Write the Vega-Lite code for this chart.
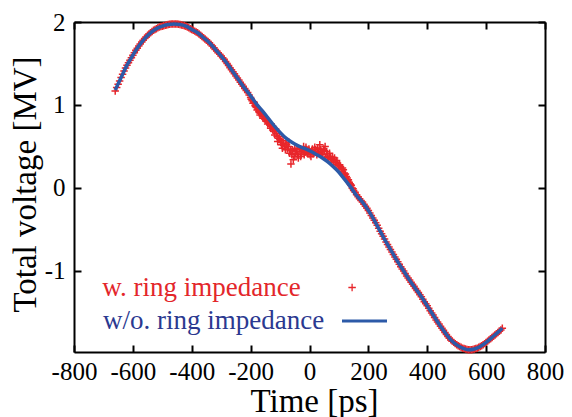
{
  "$schema": "https://vega.github.io/schema/vega-lite/v6.json",
  "width": 471,
  "height": 330,
  "autosize": {"type": "none"},
  "padding": {"left": 74, "top": 22, "right": 27, "bottom": 65},
  "background": "white",
  "config": {
    "view": {"stroke": null},
    "font": "Liberation Serif, Times New Roman, DejaVu Serif, serif",
    "axis": {
      "grid": false,
      "domainColor": "black",
      "domainWidth": 2,
      "tickColor": "black",
      "tickWidth": 2,
      "tickSize": -7,
      "labelFont": "Liberation Serif, Times New Roman, DejaVu Serif, serif",
      "labelFontSize": 25,
      "labelColor": "black",
      "labelFlush": false,
      "labelOverlap": false,
      "labelExpr": "'' + datum.value",
      "titleFont": "Liberation Serif, Times New Roman, DejaVu Serif, serif",
      "titleFontSize": 33,
      "titleFontWeight": "normal",
      "titleColor": "black"
    },
    "legend": {
      "labelFont": "Liberation Serif, Times New Roman, DejaVu Serif, serif",
      "labelFontSize": 27,
      "labelLimit": 0,
      "labelAlign": "left",
      "labelBaseline": "middle",
      "padding": 0,
      "offset": 0,
      "orient": "none",
      "title": null
    }
  },
  "datasets": {
    "red": [
      {"t": -660, "v": 1.17}, {"t": -655, "v": 1.21}, {"t": -650, "v": 1.25}, {"t": -645, "v": 1.29},
      {"t": -640, "v": 1.33}, {"t": -635, "v": 1.37}, {"t": -630, "v": 1.41}, {"t": -625, "v": 1.445},
      {"t": -620, "v": 1.48}, {"t": -615, "v": 1.51}, {"t": -610, "v": 1.54}, {"t": -605, "v": 1.57},
      {"t": -600, "v": 1.6}, {"t": -595, "v": 1.63}, {"t": -590, "v": 1.66}, {"t": -585, "v": 1.685},
      {"t": -580, "v": 1.71}, {"t": -575, "v": 1.735}, {"t": -570, "v": 1.76}, {"t": -565, "v": 1.78},
      {"t": -560, "v": 1.8}, {"t": -555, "v": 1.82}, {"t": -550, "v": 1.84}, {"t": -545, "v": 1.855},
      {"t": -540, "v": 1.87}, {"t": -535, "v": 1.885}, {"t": -530, "v": 1.9}, {"t": -525, "v": 1.91},
      {"t": -520, "v": 1.92}, {"t": -515, "v": 1.93}, {"t": -510, "v": 1.94}, {"t": -505, "v": 1.945},
      {"t": -500, "v": 1.95}, {"t": -495, "v": 1.955}, {"t": -490, "v": 1.96}, {"t": -485, "v": 1.965},
      {"t": -480, "v": 1.97}, {"t": -475, "v": 1.972}, {"t": -470, "v": 1.975}, {"t": -465, "v": 1.975},
      {"t": -460, "v": 1.975}, {"t": -455, "v": 1.975}, {"t": -450, "v": 1.975}, {"t": -445, "v": 1.972},
      {"t": -440, "v": 1.97}, {"t": -435, "v": 1.965}, {"t": -430, "v": 1.96}, {"t": -425, "v": 1.955},
      {"t": -420, "v": 1.95}, {"t": -415, "v": 1.94}, {"t": -410, "v": 1.93}, {"t": -405, "v": 1.92},
      {"t": -400, "v": 1.91}, {"t": -395, "v": 1.9}, {"t": -390, "v": 1.89}, {"t": -385, "v": 1.88},
      {"t": -380, "v": 1.87}, {"t": -375, "v": 1.855}, {"t": -370, "v": 1.84}, {"t": -365, "v": 1.825},
      {"t": -360, "v": 1.81}, {"t": -355, "v": 1.795}, {"t": -350, "v": 1.78}, {"t": -345, "v": 1.765},
      {"t": -340, "v": 1.75}, {"t": -335, "v": 1.73}, {"t": -330, "v": 1.71}, {"t": -325, "v": 1.69},
      {"t": -320, "v": 1.67}, {"t": -315, "v": 1.65}, {"t": -310, "v": 1.63}, {"t": -305, "v": 1.61},
      {"t": -300, "v": 1.59}, {"t": -295, "v": 1.57}, {"t": -290, "v": 1.55}, {"t": -285, "v": 1.525},
      {"t": -280, "v": 1.5}, {"t": -275, "v": 1.475}, {"t": -270, "v": 1.45}, {"t": -265, "v": 1.425},
      {"t": -260, "v": 1.4}, {"t": -255, "v": 1.375}, {"t": -250, "v": 1.35}, {"t": -245, "v": 1.325},
      {"t": -240, "v": 1.3}, {"t": -235, "v": 1.275}, {"t": -230, "v": 1.25}, {"t": -225, "v": 1.225},
      {"t": -220, "v": 1.2}, {"t": -215, "v": 1.175}, {"t": -210, "v": 1.15}, {"t": -205, "v": 1.12},
      {"t": -200, "v": 1.09}, {"t": -198, "v": 1.07}, {"t": -195, "v": 1.05}, {"t": -192, "v": 1.02},
      {"t": -190, "v": 1.04}, {"t": -188, "v": 1.03}, {"t": -185, "v": 0.99}, {"t": -182, "v": 0.98},
      {"t": -180, "v": 0.97}, {"t": -178, "v": 0.94}, {"t": -175, "v": 0.95}, {"t": -172, "v": 0.92},
      {"t": -170, "v": 0.91}, {"t": -168, "v": 0.88}, {"t": -165, "v": 0.9}, {"t": -162, "v": 0.89},
      {"t": -160, "v": 0.86}, {"t": -158, "v": 0.84}, {"t": -155, "v": 0.87}, {"t": -152, "v": 0.83},
      {"t": -150, "v": 0.85}, {"t": -148, "v": 0.82}, {"t": -145, "v": 0.8}, {"t": -142, "v": 0.77},
      {"t": -140, "v": 0.8}, {"t": -138, "v": 0.78}, {"t": -135, "v": 0.76}, {"t": -132, "v": 0.72},
      {"t": -130, "v": 0.77}, {"t": -128, "v": 0.74}, {"t": -125, "v": 0.7}, {"t": -122, "v": 0.73},
      {"t": -120, "v": 0.68}, {"t": -118, "v": 0.64}, {"t": -115, "v": 0.71}, {"t": -112, "v": 0.66},
      {"t": -110, "v": 0.62}, {"t": -108, "v": 0.56}, {"t": -105, "v": 0.6}, {"t": -102, "v": 0.62},
      {"t": -100, "v": 0.58}, {"t": -98, "v": 0.55}, {"t": -95, "v": 0.52}, {"t": -92, "v": 0.48},
      {"t": -90, "v": 0.57}, {"t": -88, "v": 0.54}, {"t": -85, "v": 0.5}, {"t": -82, "v": 0.46},
      {"t": -80, "v": 0.53}, {"t": -78, "v": 0.52}, {"t": -75, "v": 0.47}, {"t": -72, "v": 0.5},
      {"t": -70, "v": 0.55}, {"t": -68, "v": 0.42}, {"t": -65, "v": 0.45}, {"t": -63, "v": 0.29},
      {"t": -60, "v": 0.4}, {"t": -58, "v": 0.46}, {"t": -55, "v": 0.34}, {"t": -52, "v": 0.38},
      {"t": -50, "v": 0.48}, {"t": -48, "v": 0.42}, {"t": -45, "v": 0.44}, {"t": -42, "v": 0.47},
      {"t": -40, "v": 0.4}, {"t": -38, "v": 0.36}, {"t": -35, "v": 0.47}, {"t": -32, "v": 0.44},
      {"t": -30, "v": 0.38}, {"t": -28, "v": 0.41}, {"t": -25, "v": 0.46}, {"t": -22, "v": 0.45},
      {"t": -20, "v": 0.5}, {"t": -18, "v": 0.4}, {"t": -15, "v": 0.43}, {"t": -12, "v": 0.49},
      {"t": -10, "v": 0.46}, {"t": -8, "v": 0.42}, {"t": -5, "v": 0.41}, {"t": -2, "v": 0.47},
      {"t": 0, "v": 0.44}, {"t": 2, "v": 0.4}, {"t": 5, "v": 0.38}, {"t": 8, "v": 0.44},
      {"t": 10, "v": 0.47}, {"t": 12, "v": 0.41}, {"t": 15, "v": 0.43}, {"t": 18, "v": 0.49},
      {"t": 20, "v": 0.46}, {"t": 22, "v": 0.43}, {"t": 25, "v": 0.4}, {"t": 28, "v": 0.48},
      {"t": 30, "v": 0.44}, {"t": 32, "v": 0.42}, {"t": 35, "v": 0.52}, {"t": 38, "v": 0.46},
      {"t": 40, "v": 0.41}, {"t": 42, "v": 0.44}, {"t": 45, "v": 0.4}, {"t": 48, "v": 0.47},
      {"t": 50, "v": 0.45}, {"t": 53, "v": 0.5}, {"t": 55, "v": 0.37}, {"t": 58, "v": 0.44},
      {"t": 60, "v": 0.41}, {"t": 62, "v": 0.38}, {"t": 65, "v": 0.35}, {"t": 68, "v": 0.42},
      {"t": 70, "v": 0.38}, {"t": 72, "v": 0.36}, {"t": 75, "v": 0.34}, {"t": 78, "v": 0.37},
      {"t": 80, "v": 0.31}, {"t": 82, "v": 0.33}, {"t": 85, "v": 0.36}, {"t": 88, "v": 0.31},
      {"t": 90, "v": 0.28}, {"t": 92, "v": 0.33}, {"t": 95, "v": 0.3}, {"t": 98, "v": 0.27},
      {"t": 100, "v": 0.24}, {"t": 102, "v": 0.28}, {"t": 105, "v": 0.26}, {"t": 108, "v": 0.23},
      {"t": 110, "v": 0.2}, {"t": 112, "v": 0.24}, {"t": 115, "v": 0.22}, {"t": 118, "v": 0.18},
      {"t": 120, "v": 0.16}, {"t": 122, "v": 0.17}, {"t": 125, "v": 0.14}, {"t": 128, "v": 0.12},
      {"t": 130, "v": 0.09}, {"t": 132, "v": 0.1}, {"t": 135, "v": 0.07}, {"t": 138, "v": 0.05},
      {"t": 140, "v": 0.04}, {"t": 142, "v": 0.03}, {"t": 145, "v": 0.0}, {"t": 148, "v": -0.01},
      {"t": 150, "v": -0.03}, {"t": 155, "v": -0.05}, {"t": 160, "v": -0.08}, {"t": 165, "v": -0.105},
      {"t": 170, "v": -0.13}, {"t": 175, "v": -0.15}, {"t": 180, "v": -0.17}, {"t": 185, "v": -0.195},
      {"t": 190, "v": -0.22}, {"t": 195, "v": -0.245}, {"t": 200, "v": -0.27}, {"t": 205, "v": -0.3},
      {"t": 210, "v": -0.33}, {"t": 215, "v": -0.36}, {"t": 220, "v": -0.39}, {"t": 225, "v": -0.42},
      {"t": 230, "v": -0.45}, {"t": 235, "v": -0.485}, {"t": 240, "v": -0.52}, {"t": 245, "v": -0.55},
      {"t": 250, "v": -0.58}, {"t": 255, "v": -0.615}, {"t": 260, "v": -0.65}, {"t": 265, "v": -0.68},
      {"t": 270, "v": -0.71}, {"t": 275, "v": -0.74}, {"t": 280, "v": -0.77}, {"t": 285, "v": -0.8},
      {"t": 290, "v": -0.83}, {"t": 295, "v": -0.86}, {"t": 300, "v": -0.89}, {"t": 305, "v": -0.92},
      {"t": 310, "v": -0.95}, {"t": 315, "v": -0.975}, {"t": 320, "v": -1.0}, {"t": 325, "v": -1.03},
      {"t": 330, "v": -1.06}, {"t": 335, "v": -1.085}, {"t": 340, "v": -1.11}, {"t": 345, "v": -1.135},
      {"t": 350, "v": -1.16}, {"t": 355, "v": -1.185}, {"t": 360, "v": -1.21}, {"t": 365, "v": -1.235},
      {"t": 370, "v": -1.26}, {"t": 375, "v": -1.285}, {"t": 380, "v": -1.31}, {"t": 385, "v": -1.34},
      {"t": 390, "v": -1.37}, {"t": 395, "v": -1.395}, {"t": 400, "v": -1.42}, {"t": 405, "v": -1.45},
      {"t": 410, "v": -1.48}, {"t": 415, "v": -1.505}, {"t": 420, "v": -1.53}, {"t": 425, "v": -1.56},
      {"t": 430, "v": -1.59}, {"t": 435, "v": -1.615}, {"t": 440, "v": -1.64}, {"t": 445, "v": -1.665},
      {"t": 450, "v": -1.69}, {"t": 455, "v": -1.715}, {"t": 460, "v": -1.74}, {"t": 465, "v": -1.765},
      {"t": 470, "v": -1.79}, {"t": 475, "v": -1.81}, {"t": 480, "v": -1.83}, {"t": 485, "v": -1.845},
      {"t": 490, "v": -1.86}, {"t": 495, "v": -1.875}, {"t": 500, "v": -1.89}, {"t": 505, "v": -1.9},
      {"t": 510, "v": -1.91}, {"t": 515, "v": -1.92}, {"t": 520, "v": -1.93}, {"t": 525, "v": -1.935},
      {"t": 530, "v": -1.94}, {"t": 535, "v": -1.945}, {"t": 540, "v": -1.95}, {"t": 545, "v": -1.95},
      {"t": 550, "v": -1.95}, {"t": 555, "v": -1.945}, {"t": 560, "v": -1.94}, {"t": 565, "v": -1.935},
      {"t": 570, "v": -1.93}, {"t": 575, "v": -1.92}, {"t": 580, "v": -1.91}, {"t": 585, "v": -1.9},
      {"t": 590, "v": -1.89}, {"t": 595, "v": -1.875}, {"t": 600, "v": -1.86}, {"t": 605, "v": -1.845},
      {"t": 610, "v": -1.83}, {"t": 615, "v": -1.815}, {"t": 620, "v": -1.8}, {"t": 625, "v": -1.785},
      {"t": 630, "v": -1.77}, {"t": 635, "v": -1.755}, {"t": 640, "v": -1.74}, {"t": 645, "v": -1.725},
      {"t": 650, "v": -1.71}, {"t": 655, "v": -1.69}
    ],
    "blue": [
      {"t": -660, "v": 1.18}, {"t": -640, "v": 1.33}, {"t": -620, "v": 1.48}, {"t": -600, "v": 1.6},
      {"t": -580, "v": 1.71}, {"t": -560, "v": 1.8}, {"t": -540, "v": 1.87}, {"t": -520, "v": 1.92},
      {"t": -500, "v": 1.95}, {"t": -480, "v": 1.97}, {"t": -460, "v": 1.975}, {"t": -440, "v": 1.97},
      {"t": -420, "v": 1.95}, {"t": -400, "v": 1.91}, {"t": -380, "v": 1.87}, {"t": -360, "v": 1.81},
      {"t": -340, "v": 1.75}, {"t": -320, "v": 1.67}, {"t": -300, "v": 1.59}, {"t": -280, "v": 1.5},
      {"t": -260, "v": 1.4}, {"t": -240, "v": 1.3}, {"t": -220, "v": 1.2}, {"t": -200, "v": 1.11},
      {"t": -180, "v": 1.01}, {"t": -160, "v": 0.93}, {"t": -140, "v": 0.84}, {"t": -120, "v": 0.75},
      {"t": -100, "v": 0.67}, {"t": -80, "v": 0.6}, {"t": -60, "v": 0.55}, {"t": -40, "v": 0.51},
      {"t": -20, "v": 0.48}, {"t": 0, "v": 0.45}, {"t": 20, "v": 0.41}, {"t": 40, "v": 0.37},
      {"t": 60, "v": 0.32}, {"t": 80, "v": 0.26}, {"t": 100, "v": 0.19}, {"t": 120, "v": 0.1},
      {"t": 140, "v": 0.01}, {"t": 160, "v": -0.09}, {"t": 180, "v": -0.17}, {"t": 200, "v": -0.27},
      {"t": 220, "v": -0.39}, {"t": 240, "v": -0.52}, {"t": 260, "v": -0.65}, {"t": 280, "v": -0.77},
      {"t": 300, "v": -0.89}, {"t": 320, "v": -1.0}, {"t": 340, "v": -1.11}, {"t": 360, "v": -1.21},
      {"t": 380, "v": -1.31}, {"t": 400, "v": -1.42}, {"t": 420, "v": -1.53}, {"t": 440, "v": -1.64},
      {"t": 460, "v": -1.74}, {"t": 480, "v": -1.83}, {"t": 500, "v": -1.89}, {"t": 520, "v": -1.93},
      {"t": 540, "v": -1.95}, {"t": 560, "v": -1.94}, {"t": 580, "v": -1.91}, {"t": 600, "v": -1.86},
      {"t": 620, "v": -1.8}, {"t": 640, "v": -1.74}, {"t": 655, "v": -1.69}
    ]
  },
  "layer": [
    {
      "data": {"name": "red"},
      "mark": {"type": "point", "shape": "M-1,0L1,0M0,-1L0,1", "filled": false, "size": 56, "strokeWidth": 1.5, "opacity": 1},
      "encoding": {
        "x": {
          "field": "t", "type": "quantitative",
          "scale": {"domain": [-800, 800], "nice": false, "zero": false},
          "axis": {
            "orient": "bottom", "values": [-800, -600, -400, -200, 0, 200, 400, 600, 800],
            "labelPadding": 14, "title": "Time [ps]",
            "titleX": 240, "titleY": 59, "titleAlign": "center", "titleBaseline": "alphabetic", "titleAnchor": null
          }
        },
        "y": {
          "field": "v", "type": "quantitative",
          "scale": {"domain": [-1.976, 2], "nice": false, "zero": false},
          "axis": {
            "orient": "left", "values": [-1, 0, 1, 2],
            "labelPadding": 16, "title": "Total voltage [MV]",
            "titleX": -39, "titleY": 162, "titleAngle": -90, "titleAlign": "center", "titleBaseline": "alphabetic", "titleAnchor": null
          }
        },
        "color": {
          "datum": "w. ring impedance",
          "scale": {"domain": ["w. ring impedance"], "range": ["#e8262b"]},
          "legend": {
            "legendX": 264.6, "legendY": 252,
            "labelOffset": -263.4,
            "labelColor": "#e3262b",
            "symbolType": "M-1,0L1,0M0,-1L0,1",
            "symbolSize": 56,
            "symbolStrokeWidth": 1.3,
            "symbolStrokeColor": "#e8262b",
            "symbolFillColor": "transparent"
          }
        }
      }
    },
    {
      "data": {"name": "blue"},
      "mark": {"type": "line", "strokeWidth": 3.5, "interpolate": "monotone"},
      "encoding": {
        "x": {
          "field": "t", "type": "quantitative",
          "axis": {"orient": "top", "values": [-800, -600, -400, -200, 0, 200, 400, 600, 800], "labels": false, "title": null}
        },
        "y": {
          "field": "v", "type": "quantitative",
          "axis": {"orient": "right", "values": [-1, 0, 1, 2], "labels": false, "title": null}
        },
        "color": {
          "datum": "w/o. ring impedance",
          "scale": {"domain": ["w/o. ring impedance"], "range": ["#2c5aa8"]},
          "legend": {
            "legendX": 266.5, "legendY": 275,
            "labelOffset": -285.5,
            "labelColor": "#2b3990",
            "symbolType": "stroke",
            "symbolSize": 2025,
            "symbolStrokeWidth": 3,
            "symbolStrokeColor": "#2c5aa8"
          }
        }
      }
    }
  ],
  "resolve": {
    "axis": {"x": "independent", "y": "independent"},
    "scale": {"color": "independent"},
    "legend": {"color": "independent"}
  }
}
